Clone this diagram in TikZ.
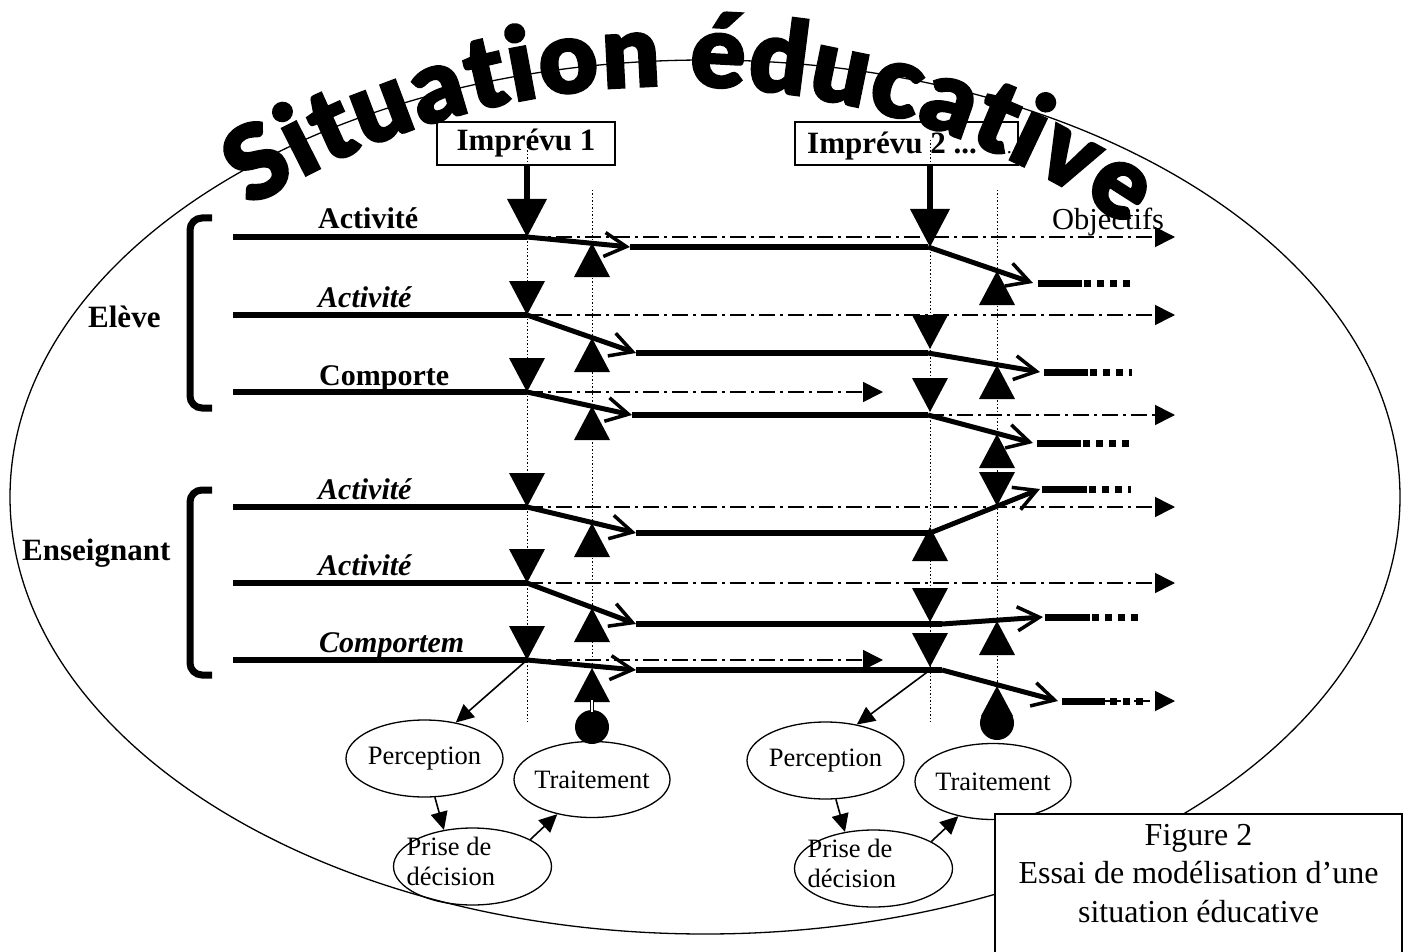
\documentclass[tikz,border=0pt]{standalone}
\usepackage{fontspec}
\setmainfont{Liberation Serif}
\newfontfamily\titlefont[FakeBold=2]{Lato Black}
\usetikzlibrary{arrows.meta,decorations.text,shapes.geometric}
\begin{document}
\begin{tikzpicture}[x=1pt,y=-1pt,
  thk/.style={line width=6.5pt},
  slp/.style={line width=5pt,-{Straight Barb[length=22pt,width=24pt,line width=3.5pt]}},
  dd/.style={line width=1.6pt,dash pattern=on 16pt off 5pt on 3pt off 5pt,-{Triangle[length=20pt,width=20pt]}},
  ddn/.style={line width=1.6pt,dash pattern=on 16pt off 5pt on 3pt off 5pt},
  vd/.style={line width=1pt,dash pattern=on 1.5pt off 2pt},
  tar/.style={line width=1.6pt,-{Triangle[length=18pt,width=17pt]}},
  endbar/.style={line width=7pt},
  sq/.style={line width=7pt,dash pattern=on 7pt off 6pt},
  brk/.style={line width=7pt,rounded corners=12pt},
  ell/.style={ellipse,draw,line width=1.3pt,inner sep=0pt,minimum width=157,minimum height=77,font=\fontsize{26.5}{30}\selectfont},
  lab/.style={anchor=base west,inner sep=0pt,font=\bfseries\fontsize{30}{30}\selectfont},
  labi/.style={lab,font=\bfseries\itshape\fontsize{30}{30}\selectfont},
  impbox/.style={draw,line width=1.3pt,minimum height=43,inner sep=0pt,font=\bfseries\fontsize{31}{31}\selectfont},
  dtri/.pic={\fill (-18,-34) -- (18,-34) -- (0,0) -- cycle;},
  utri/.pic={\fill (-18,34) -- (18,34) -- (0,0) -- cycle;},
  bigdtri/.pic={\fill (-20,-38) -- (20,-38) -- (0,0) -- cycle;}
]
\useasboundingbox (0,0) rectangle (1414,952);

% big ellipse
\draw[line width=1.3pt] (705,497) ellipse [x radius=695, y radius=437];

% dotted verticals
\draw[vd] (527,140) -- (527,722);
\draw[vd] (592,190) -- (592,700);
\draw[vd] (930,140) -- (930,722);
\draw[vd] (997,190) -- (997,722);

% Imprevu boxes
\node[impbox,minimum width=178] (imp1) at (526,143.5) {Imprévu 1};
\node[impbox,minimum width=223] (imp2) at (906.5,143.5) {};
\node[anchor=base west,inner sep=0pt,font=\bfseries\fontsize{31}{31}\selectfont] (imp2t) at (807,154) {Imprévu 2 ...\hspace{30pt}{\mdseries\fontsize{20}{20}\selectfont...}};

% title along arc
\path[decorate,decoration={text along path,
  text={|\titlefont\fontsize{102}{102}\selectfont|Situation éducative},
  text align={fit to path}}]
  (674,886) ++(-122:800) arc[start angle=-122,end angle=-55.5,radius=800];

% brackets and group labels
\draw[brk] (212,218) -- (190,218) -- (190,408) -- (212,408);
\draw[brk] (212,490) -- (190,490) -- (190,675) -- (212,675);
\node[lab,font=\bfseries\fontsize{31}{31}\selectfont] (eleve) at (88,327) {Elève};
\node[lab,font=\bfseries\fontsize{31}{31}\selectfont] (ens) at (22,560) {Enseignant};

% row coordinates
\coordinate (r1a) at (233,237); \coordinate (r1b) at (527,237); \coordinate (r1c) at (630,247); \coordinate (r1d) at (928,247); \coordinate (r1e) at (1033,283);
\coordinate (r2a) at (233,315); \coordinate (r2b) at (527,315); \coordinate (r2c) at (636,353); \coordinate (r2d) at (928,353); \coordinate (r2e) at (1040,372);
\coordinate (r3a) at (233,392); \coordinate (r3b) at (527,392); \coordinate (r3c) at (632,415); \coordinate (r3d) at (928,415); \coordinate (r3e) at (1033,443);
\coordinate (r4a) at (233,507); \coordinate (r4b) at (527,507); \coordinate (r4c) at (636,533); \coordinate (r4d) at (930,533); \coordinate (r4e) at (1040,489);
\coordinate (r5a) at (233,583); \coordinate (r5b) at (527,583); \coordinate (r5c) at (636,624); \coordinate (r5d) at (942,624); \coordinate (r5e) at (1043,617);
\coordinate (r6a) at (233,660); \coordinate (r6b) at (527,660); \coordinate (r6c) at (636,670); \coordinate (r6d) at (942,670); \coordinate (r6e) at (1058,701);
\coordinate (j6) at (930,670);

% dash-dot objective lines
\draw[dd] (r1b) -- (1175,237);
\draw[dd] (r2b) -- (1175,315);
\draw[dd] (r3b) -- (883,392);
\draw[dd] (r3d) -- (1175,415);
\draw[dd] (r4b) -- (1175,507);
\draw[dd] (r5b) -- (1175,583);
\draw[dd] (r6b) -- (883,660);

% thick activity lines
\foreach \r in {1,...,6}{
  \draw[thk] (r\r a) -- (r\r b);
  \draw[slp] (r\r b) -- (r\r c);
  \draw[thk] (r\r c) -- (r\r d);
  \draw[slp] (r\r d) -- (r\r e);
}
% continuation bars
\draw[endbar] (1038,283) -- (1082,283); \draw[sq] (1084,283) -- (1130,283);
\draw[endbar] (1044,372) -- (1088,372); \draw[sq] (1090,372) -- (1132,372);
\draw[endbar] (1037,443) -- (1081,443); \draw[sq] (1083,443) -- (1129,443);
\draw[endbar] (1042,489) -- (1087,489); \draw[sq] (1089,489) -- (1131,489);
\draw[endbar] (1045,617) -- (1090,617); \draw[sq] (1092,617) -- (1140,617);
\draw[ddn,-{Triangle[length=20pt,width=20pt]}] (1105,701) -- (1175,701);
\draw[endbar] (1062,701) -- (1105,701); \draw[sq] (1110,701) -- (1145,701);

% row labels
\node[lab] (l1) at (318,229) {Activité};
\node[labi] (l2) at (318,307) {Activité};
\node[lab] (l3) at (319,385) {Comporte};
\node[labi] (l4) at (318,499) {Activité};
\node[labi] (l5) at (318,575) {Activité};
\node[labi] (l6) at (319,652) {Comportem};
\node[anchor=base west,inner sep=0pt,font=\fontsize{30.5}{30}\selectfont] (obj) at (1052,230) {Objectifs};

% impulses from the unforeseen events
\draw[line width=6pt] (imp1.south -| r1b) -- ([yshift=36pt]r1b);
\pic at (r1b) {bigdtri};
\draw[line width=6pt] (imp2.south -| j6) -- (930,211);
\pic at (930,247) {bigdtri};

% column 1 triangles
\pic at (r2b) {dtri}; \pic at (r3b) {dtri}; \pic at (r4b) {dtri}; \pic at (r5b) {dtri}; \pic at (r6b) {dtri};
% column 1' triangles
\pic at (592,243) {utri}; \pic at (592,338) {utri}; \pic at (592,406) {utri};
\pic at (592,523) {utri}; \pic at (592,608) {utri}; \pic at (592,668) {utri};
% column 2 triangles
\pic at (930,349) {dtri}; \pic at (930,412) {dtri}; \pic at (930,527) {utri};
\pic at (930,622) {dtri}; \pic at (930,667) {dtri};
% column 2' triangles
\pic at (997,271) {utri}; \pic at (997,365) {utri}; \pic at (997,434) {utri};
\pic at (997,506) {dtri}; \pic at (997,621) {utri};

% processing ellipses
\node[ell] (perc1) at (424.5,758.5) {\makebox[0pt]{Perception}};
\node[ell,minimum width=156,minimum height=76] (trait1) at (592,779.5) {\makebox[0pt]{Traitement}};
\node[ell,minimum width=158] (prise1) at (472.5,866.5) {};
\node[anchor=west,align=left,inner sep=0pt,font=\fontsize{26.5}{30}\selectfont] (prise1t) at ([xshift=-66pt,yshift=5pt]prise1.center) {Prise de\\décision};

\node[ell] (perc2) at (825.5,760.5) {\makebox[0pt]{Perception}};
\node[ell,minimum width=156,minimum height=76] (trait2) at (993,781.5) {\makebox[0pt]{Traitement}};
\node[ell,minimum width=158] (prise2) at (873.5,868.5) {};
\node[anchor=west,align=left,inner sep=0pt,font=\fontsize{26.5}{30}\selectfont] (prise2t) at ([xshift=-66pt,yshift=5pt]prise2.center) {Prise de\\décision};

% connectors between processing steps
\draw[tar] (r6b) -- (perc1.49);
\draw[tar] (perc1.-75) -- (prise1.128);
\draw[tar] (prise1.25) -- (trait1.-135);
\draw[tar] (j6) -- (perc2.49);
\draw[tar] (perc2.-75) -- (prise2.128);
\draw[tar] (prise2.25) -- (trait2.-135);

% feedback from treatment (col 1')
\fill (592,727) circle (17pt);
\draw[line width=0.8pt,double distance=2pt] (592,712) -- (592,700);
% feedback (col 2') teardrop
\fill (997,723) circle (17pt);
\fill (997,686) -- (981,716) -- (1013,716) -- cycle;

% caption box
\draw[line width=1.3pt,fill=white] (995,814) rectangle (1402,960);
\node[align=center,inner sep=0pt,font=\fontsize{32}{38.5}\selectfont] (caption) at (1198.5,873.5) {Figure 2\\Essai de modélisation d’une\\situation éducative};
\end{tikzpicture}
\end{document}
